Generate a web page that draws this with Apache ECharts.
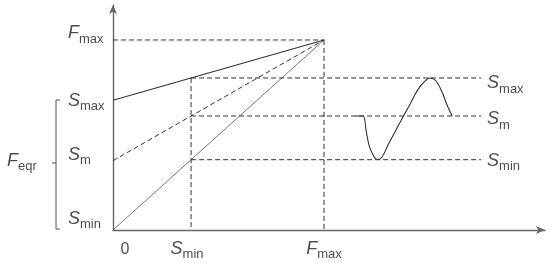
<!DOCTYPE html>
<html>
<head>
<meta charset="utf-8">
<script src="https://cdn.jsdelivr.net/npm/echarts@6/dist/echarts.min.js"></script>
<style>
  html, body { margin: 0; padding: 0; background: #fff; }
  #chart { width: 550px; height: 263px; }
</style>
</head>
<body>
<div id="chart"></div>
<script>
  // abscissa marks: origin, S_min, F_max
  const xMarks = [0, 3.7, 10];
  const xMarkNames = ['zero', 'Smin', 'Fmax'];
  // stress levels (same order everywhere: max, mean, min)
  const levelNames = ['Smax', 'Sm', 'Smin'];
  const levelValues = [8, 6, 3.7];
  // where each load line leaves the ordinate
  const lineStarts = [6.83, 3.65, 0];
  const fMax = 10;
  const guideEnd = 17.44;
  const waveX = [11.5, 11.85, 11.99, 12.13, 12.32, 12.51, 12.75, 13.03, 13.41, 13.74, 14.08, 14.41, 14.74, 15.02, 15.31, 15.59, 15.83, 16.07];
  const waveY = [6, 6, 5.26, 4.47, 3.95, 3.7, 3.84, 4.47, 5.26, 5.95, 6.63, 7.32, 7.79, 8, 7.84, 7.26, 6.58, 6];
  // F_eqr bracket on the far left
  const bracketX = [-2.51, -2.7, -2.7, -2.51];
  const bracketY = [6.84, 6.84, 0.05, 0.05];
  const bracketTickX = [-2.7, -2.89];
  const bracketTickY = [3.53, 3.53];

  const ink = '#222';
  const font = 'Liberation Sans';
  const rich = {
    F: { fontFamily: font, fontSize: 18, fontStyle: 'italic', color: ink, verticalAlign: 'bottom', padding: [0, 0, 3, 0] },
    s: { fontFamily: font, fontSize: 13, color: ink, verticalAlign: 'bottom' },
    n: { fontFamily: font, fontSize: 16, color: ink }
  };
  const sym = (name) => {
    if (name === 'zero') return '{n|0}';
    return '{F|' + name[0] + '}{s|' + name.slice(1).toLowerCase() + '}';
  };

  const dashed = { color: '#333', width: 1, type: [5, 3] };
  const solid = { color: '#333', width: 1.1 };
  const thin = { color: '#555', width: 0.8 };

  const lineSeries = (data, style, extra) => Object.assign({
    type: 'line', data: data, symbol: 'none', silent: true,
    lineStyle: style, animation: false
  }, extra || {});

  const series = [];
  // load lines, all meeting at (F_max, F_max)
  lineStarts.forEach((y0, i) => {
    series.push(lineSeries([[0, y0], [fMax, fMax]], [solid, dashed, thin][i]));
  });
  // guides to F_max
  series.push(lineSeries([[0, fMax], [fMax, fMax]], dashed));
  series.push(lineSeries([[xMarks[2], fMax], [xMarks[2], 0]], dashed));
  series.push(lineSeries([[xMarks[1], levelValues[0]], [xMarks[1], 0]], dashed));
  // level guides
  levelValues.forEach((v) => {
    series.push(lineSeries([[xMarks[1], v], [guideEnd, v]], dashed));
  });
  // cycle
  series.push(lineSeries(waveX.map((x, i) => [x, waveY[i]]), { color: '#333', width: 1.1 }, { smooth: 0.35 }));

  // bracket, outside the plot area
  series.push({
    type: 'custom', clip: false, silent: true, animation: false,
    data: [0],
    renderItem: (params, api) => {
      const pts = bracketX.map((x, i) => api.coord([x, bracketY[i]]));
      const tick = bracketTickX.map((x, i) => api.coord([x, bracketTickY[i]]));
      return {
        type: 'group',
        children: [
          { type: 'polyline', shape: { points: pts }, style: { stroke: '#555', lineWidth: 1, fill: null } },
          { type: 'polyline', shape: { points: tick }, style: { stroke: '#555', lineWidth: 1, fill: null } }
        ]
      };
    }
  });

  // text labels anchored to data positions
  const labels = [];
  const leftVals = [fMax].concat(lineStarts);
  const leftNames = ['Fmax'].concat(levelNames);
  const leftDy = [-5, 2, -4, -10];
  leftVals.forEach((v, i) => labels.push({ value: [0, v], name: leftNames[i], dx: -45, dy: leftDy[i], align: 'left' }));
  const rightDy = [7, 5, 3];
  levelValues.forEach((v, i) => labels.push({ value: [guideEnd, v], name: levelNames[i], dx: 6, dy: rightDy[i], align: 'left' }));
  const bottomDx = [12, -4, 0];
  xMarks.forEach((x, i) => labels.push({ value: [x, 0], name: xMarkNames[i], dx: bottomDx[i], dy: 20, align: 'center' }));
  labels.push({ value: [-5.02, 3.68], name: 'Feqr', dx: 0, dy: 2, align: 'left' });

  series.push({
    type: 'scatter', symbolSize: 0, clip: false, silent: true, animation: false,
    data: labels.map((d) => ({
      value: d.value,
      label: {
        show: true, position: 'inside', offset: [d.dx, d.dy],
        align: d.align, verticalAlign: 'middle',
        formatter: sym(d.name), rich: rich
      }
    }))
  });

  const chart = echarts.init(document.getElementById('chart'), null, { renderer: 'canvas' });
  chart.setOption({
    backgroundColor: '#fff',
    animation: false,
    grid: { left: 113, right: 5, top: 5, bottom: 33 },
    xAxis: {
      type: 'value', min: 0, max: 20.47,
      axisLine: { show: true, symbol: ['none', 'arrow'], symbolSize: [6, 9], lineStyle: { color: '#666', width: 1.4 } },
      axisTick: { show: false }, axisLabel: { show: false }, splitLine: { show: false }
    },
    yAxis: {
      type: 'value', min: 0, max: 11.84,
      axisLine: { show: true, symbol: ['none', 'arrow'], symbolSize: [6, 9], lineStyle: { color: '#666', width: 1.4 } },
      axisTick: { show: false }, axisLabel: { show: false }, splitLine: { show: false }
    },
    series: series
  });
</script>
</body>
</html>
